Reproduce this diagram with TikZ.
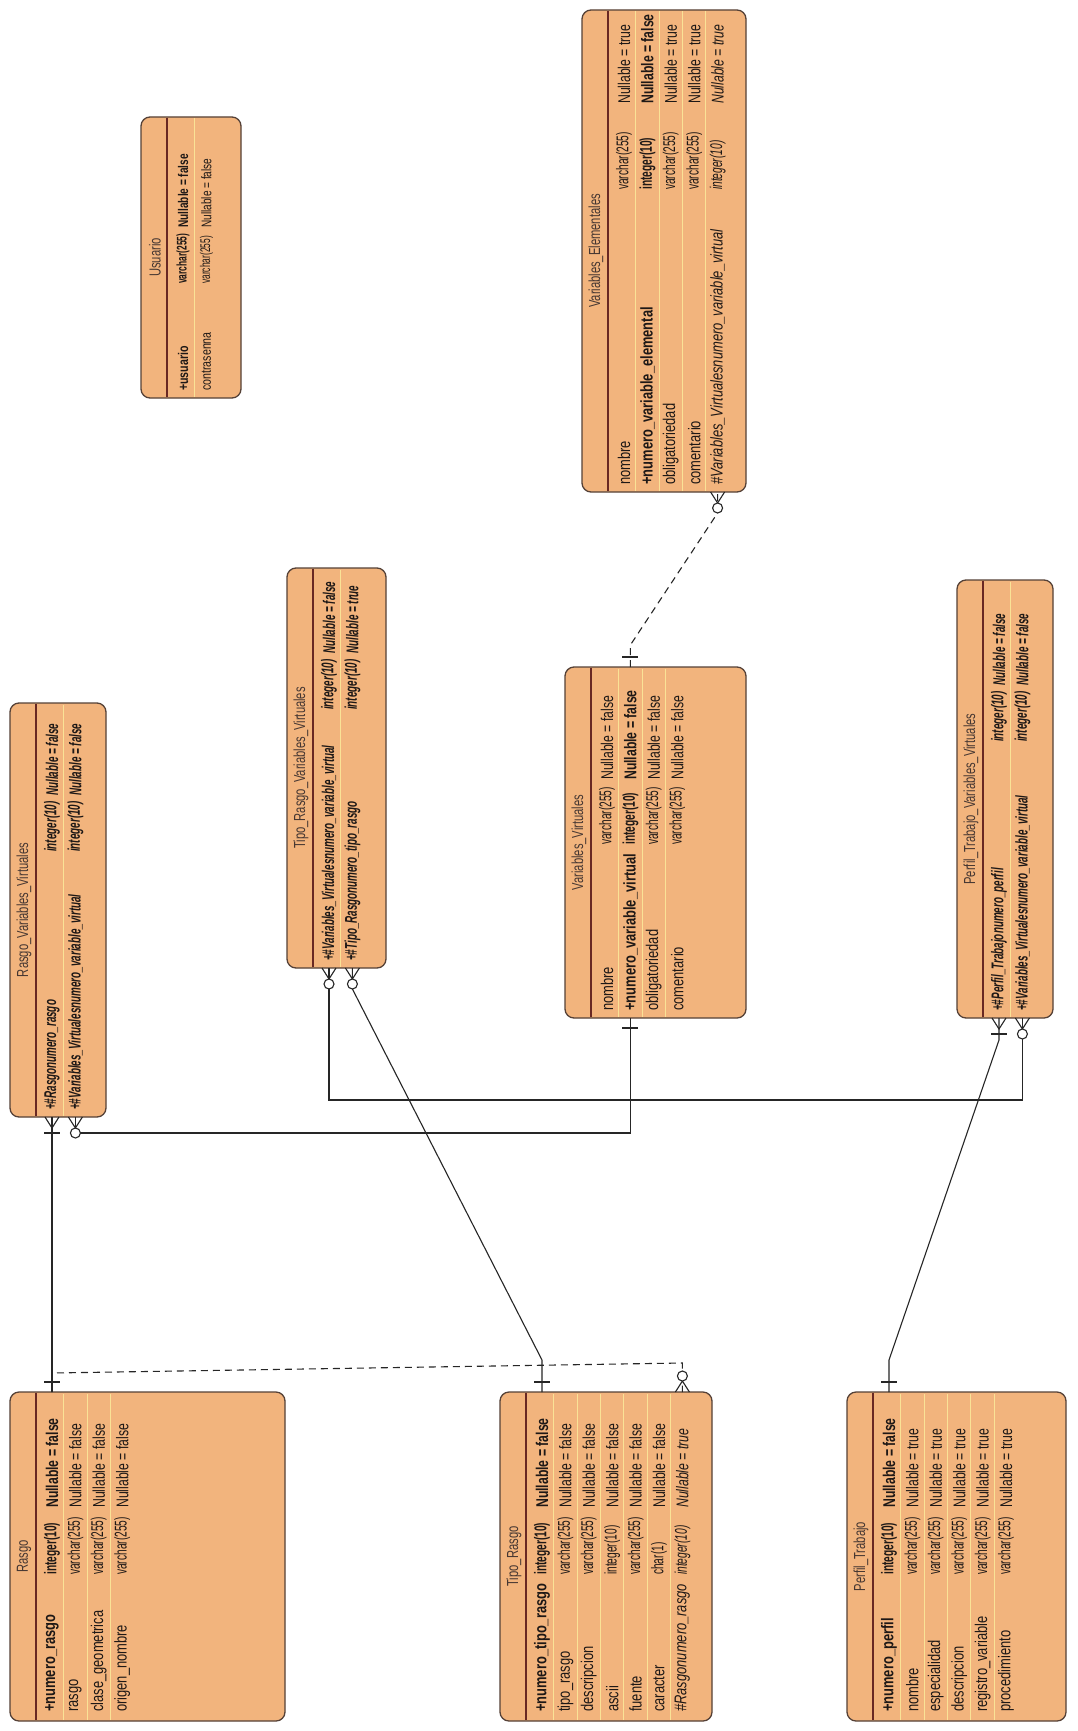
\documentclass[tikz,border=0pt]{standalone}
\usepackage{fontspec}
\setmainfont{Liberation Sans}[FakeStretch=0.76]
\newfontfamily\typefam{Liberation Sans}[FakeStretch=0.6]
\newfontfamily\nullfam{Liberation Sans}[FakeStretch=0.72]
\newfontfamily\jfam{Liberation Sans}[FakeStretch=0.58]
\newfontfamily\ttlfam{Liberation Sans}[FakeStretch=0.7]
\usetikzlibrary{calc}
\definecolor{boxfill}{RGB}{242,180,125}
\definecolor{boxline}{RGB}{85,65,55}
\definecolor{sepline}{RGB}{105,40,35}
\definecolor{rowline}{RGB}{250,226,150}
\definecolor{txt}{RGB}{30,24,22}
\definecolor{ttltxt}{RGB}{70,55,50}
\newcommand\erfont{\fontsize{17}{19}\selectfont}
\newcommand\ersmall{\fontsize{14}{16}\selectfont}
\newcommand\ertitlefont{\ttlfam\fontsize{16}{18}\selectfont}
\newcommand\erjfont{\jfam\bfseries\itshape\fontsize{17}{19}\selectfont}
\tikzset{
  tbox/.style={draw=boxline, line width=1.3pt, fill=boxfill, rounded corners=9pt, inner sep=0pt},
  titlesep/.style={draw=sepline, line width=1.3pt},
  rowsep/.style={draw=rowline, line width=1pt},
  cell/.style={rotate=90, anchor=west, inner sep=0pt, text=txt, font=\erfont},
  ttl/.style={rotate=90, inner sep=0pt, text=ttltxt, font=\ertitlefont},
  conn/.style={draw=black!85, line width=1.1pt},
  dconn/.style={conn, dash pattern=on 7pt off 5pt},
  bold/.style={font=\erfont\bfseries},
  ital/.style={font=\erfont\itshape},
  small/.style={font=\ersmall},
  smallbold/.style={font=\ersmall\bfseries},
  junc/.style={font=\erjfont}
}
% table: id, left, top, right, bottom, title, number of rows
\newcommand\ertable[7]{%
  \node[tbox, minimum width={#4-#2}, minimum height={#5-#3}] (#1) at ({(#2+#4)/2},{(#3+#5)/2}) {};
  \draw[titlesep] ({#2+26},{#3+0.6}) -- ({#2+26},{#5-0.6});
  \foreach \k in {2,...,#7} {\draw[rowsep] ({#2+42+(\k-1.5)*23.4},{#3+1.5}) -- ({#2+42+(\k-1.5)*23.4},{#5-1.5});}
  \node[ttl] (#1-title) at ({#2+14},{(#3+#5)/2}) {#6};
}
% row: options, prefix, x, name start, type start, nullable start, three texts
\newcommand\erow[9]{%
  \node[cell,#1] (#2-n) at ({#3},{#4}) {#7};
  \node[cell,#1] (#2-t) at ({#3},{#5}) {\typefam #8};
  \node[cell,#1] (#2-u) at ({#3},{#6}) {\nullfam #9};
}
% row of a link table: all three texts in the narrow bold italic face
\newcommand\jrow[8]{%
  \node[cell,junc] (#1-n) at ({#2},{#3}) {#6};
  \node[cell,junc] (#1-t) at ({#2},{#4}) {#7};
  \node[cell,junc] (#1-u) at ({#2},{#5}) {#8};
}
% connector ends: coordinate, direction (1 = downwards, -1 = upwards)
\newcommand\fkbar[2]{%
  \draw[conn] ($(#1)+(-7,0)$) -- ($(#1)+(0,#2*11)$) -- ($(#1)+(7,0)$);
  \draw[conn] ($(#1)+(-8,#2*16)$) -- ($(#1)+(8,#2*16)$);
}
\newcommand\fkring[2]{%
  \draw[conn] ($(#1)+(-7,0)$) -- ($(#1)+(0,#2*11)$) -- ($(#1)+(7,0)$);
  \draw[conn, fill=white] ($(#1)+(0,#2*16)$) circle[radius=5];
}
\newcommand\pkbar[2]{%
  \draw[conn] ($(#1)+(-8,#2*10)$) -- ($(#1)+(8,#2*10)$);
}
\begin{document}
\begin{tikzpicture}[x=1pt,y=-1pt]
\fill[white] (0,0) rectangle (1077,1731);
\useasboundingbox (0,0) rectangle (1077,1731);

% ---------- tables ----------
\ertable{usuario}{141}{117}{241}{398}{Usuario}{2}
\erow{smallbold}{us1}{183}{391}{284}{228}{+usuario}{varchar(255)}{Nullable = false}
\erow{small}{us2}{206.4}{391}{284}{228}{contrasenna}{varchar(255)}{Nullable = false}

\ertable{ve}{582}{10}{746}{492}{Variables\_Elementales}{5}
\erow{}{ve1}{624}{485}{190}{104}{nombre}{varchar(255)}{Nullable = true}
\erow{bold}{ve2}{647.4}{485}{190}{104}{+numero\_variable\_elemental}{integer(10)}{Nullable = false}
\erow{}{ve3}{670.8}{485}{190}{104}{obligatoriedad}{varchar(255)}{Nullable = true}
\erow{}{ve4}{694.2}{485}{190}{104}{comentario}{varchar(255)}{Nullable = true}
\erow{ital}{ve5}{717.6}{485}{190}{104}{\#Variables\_Virtualesnumero\_variable\_virtual}{integer(10)}{Nullable = true}

\ertable{vv}{565}{667}{746}{1018}{Variables\_Virtuales}{4}
\erow{}{vv1}{607}{1011}{845}{780}{nombre}{varchar(255)}{Nullable = false}
\erow{bold}{vv2}{630.4}{1011}{845}{780}{+numero\_variable\_virtual}{integer(10)}{Nullable = false}
\erow{}{vv3}{653.8}{1011}{845}{780}{obligatoriedad}{varchar(255)}{Nullable = false}
\erow{}{vv4}{677.2}{1011}{845}{780}{comentario}{varchar(255)}{Nullable = false}

\ertable{rvv}{10}{703}{106}{1117}{Rasgo\_Variables\_Virtuales}{2}
\jrow{rvv1}{52}{1110}{852}{796}{+\#Rasgonumero\_rasgo}{integer(10)}{Nullable = false}
\jrow{rvv2}{75.4}{1110}{852}{796}{+\#Variables\_Virtualesnumero\_variable\_virtual}{integer(10)}{Nullable = false}

\ertable{trvv}{287}{568}{386}{968}{Tipo\_Rasgo\_Variables\_Virtuales}{2}
\jrow{trvv1}{329}{961}{710}{654}{+\#Variables\_Virtualesnumero\_variable\_virtual}{integer(10)}{Nullable = false}
\jrow{trvv2}{352.4}{961}{710}{654}{+\#Tipo\_Rasgonumero\_tipo\_rasgo}{integer(10)}{Nullable = true}

\ertable{pvv}{957}{580}{1053}{1018}{Perfil\_Trabajo\_Variables\_Virtuales}{2}
\jrow{pvv1}{999}{1011}{742}{686}{+\#Perfil\_Trabajonumero\_perfil}{integer(10)}{Nullable = false}
\jrow{pvv2}{1022.4}{1011}{742}{686}{+\#Variables\_Virtualesnumero\_variable\_virtual}{integer(10)}{Nullable = false}

\ertable{rasgo}{10}{1392}{285}{1721}{Rasgo}{4}
\erow{bold}{ra1}{52}{1712}{1575}{1508}{+numero\_rasgo}{integer(10)}{Nullable = false}
\erow{}{ra2}{75.4}{1712}{1575}{1508}{rasgo}{varchar(255)}{Nullable = false}
\erow{}{ra3}{98.8}{1712}{1575}{1508}{clase\_geometrica}{varchar(255)}{Nullable = false}
\erow{}{ra4}{122.2}{1712}{1575}{1508}{origen\_nombre}{varchar(255)}{Nullable = false}

\ertable{tr}{500}{1392}{712}{1721}{Tipo\_Rasgo}{7}
\erow{bold}{tr1}{542}{1712}{1575}{1508}{+numero\_tipo\_rasgo}{integer(10)}{Nullable = false}
\erow{}{tr2}{565.4}{1712}{1575}{1508}{tipo\_rasgo}{varchar(255)}{Nullable = false}
\erow{}{tr3}{588.8}{1712}{1575}{1508}{descripcion}{varchar(255)}{Nullable = false}
\erow{}{tr4}{612.2}{1712}{1575}{1508}{ascii}{integer(10)}{Nullable = false}
\erow{}{tr5}{635.6}{1712}{1575}{1508}{fuente}{varchar(255)}{Nullable = false}
\erow{}{tr6}{659}{1712}{1575}{1508}{caracter}{char(1)}{Nullable = false}
\erow{ital}{tr7}{682.4}{1712}{1575}{1508}{\#Rasgonumero\_rasgo}{integer(10)}{Nullable = true}

\ertable{pt}{847}{1392}{1066}{1721}{Perfil\_Trabajo}{6}
\erow{bold}{pt1}{889}{1712}{1575}{1508}{+numero\_perfil}{integer(10)}{Nullable = false}
\erow{}{pt2}{912.4}{1712}{1575}{1508}{nombre}{varchar(255)}{Nullable = true}
\erow{}{pt3}{935.8}{1712}{1575}{1508}{especialidad}{varchar(255)}{Nullable = true}
\erow{}{pt4}{959.2}{1712}{1575}{1508}{descripcion}{varchar(255)}{Nullable = true}
\erow{}{pt5}{982.6}{1712}{1575}{1508}{registro\_variable}{varchar(255)}{Nullable = true}
\erow{}{pt6}{1006}{1712}{1575}{1508}{procedimiento}{varchar(255)}{Nullable = true}

% ---------- attachment points ----------
\coordinate (rasgo-pk) at (52,1392);
\coordinate (rvv-fk1) at (52,1117);
\coordinate (rvv-fk2) at (75.4,1117);
\coordinate (tr-pk) at (542,1392);
\coordinate (tr-fk) at (682.4,1392);
\coordinate (trvv-fk1) at (329,968);
\coordinate (trvv-fk2) at (352.4,968);
\coordinate (pt-pk) at (889,1392);
\coordinate (pvv-fk1) at (999,1018);
\coordinate (pvv-fk2) at (1022.4,1018);
\coordinate (vv-pk) at (630.4,1018);
\coordinate (vv-pkt) at (630.4,667);
\coordinate (ve-fk) at (717.6,492);

% ---------- relationships ----------
\draw[conn] (rasgo-pk) -- (rvv-fk1);
\draw[dconn] (rasgo-pk) -- ++(0,-19) -- ($(tr-fk)+(0,-29)$) -- (tr-fk);
\draw[conn] (tr-pk) -- ++(0,-32) -- ($(trvv-fk2)+(0,21)$) -- (trvv-fk2);
\draw[conn] (pt-pk) -- ++(0,-32) -- ($(pvv-fk1)+(0,22)$) -- (pvv-fk1);
\draw[conn] (vv-pk) |- ($(rvv-fk2)+(0,16)$) -- (rvv-fk2);
\draw[conn] (vv-pk) -- (vv-pk |- 0,1100) -| (trvv-fk1);
\draw[conn] (vv-pk) -- (vv-pk |- 0,1100) -| (pvv-fk2);
\draw[dconn] (vv-pkt) -- ++(0,-22) -- ($(ve-fk)+(0,21)$) -- (ve-fk);

% ---------- cardinality marks ----------
\pkbar{rasgo-pk}{-1}
\fkbar{rvv-fk1}{1}
\fkring{rvv-fk2}{1}
\pkbar{tr-pk}{-1}
\fkring{tr-fk}{-1}
\fkring{trvv-fk2}{1}
\fkring{trvv-fk1}{1}
\pkbar{pt-pk}{-1}
\fkbar{pvv-fk1}{1}
\fkring{pvv-fk2}{1}
\pkbar{vv-pk}{1}
\pkbar{vv-pkt}{-1}
\fkring{ve-fk}{1}
\end{tikzpicture}
\end{document}
